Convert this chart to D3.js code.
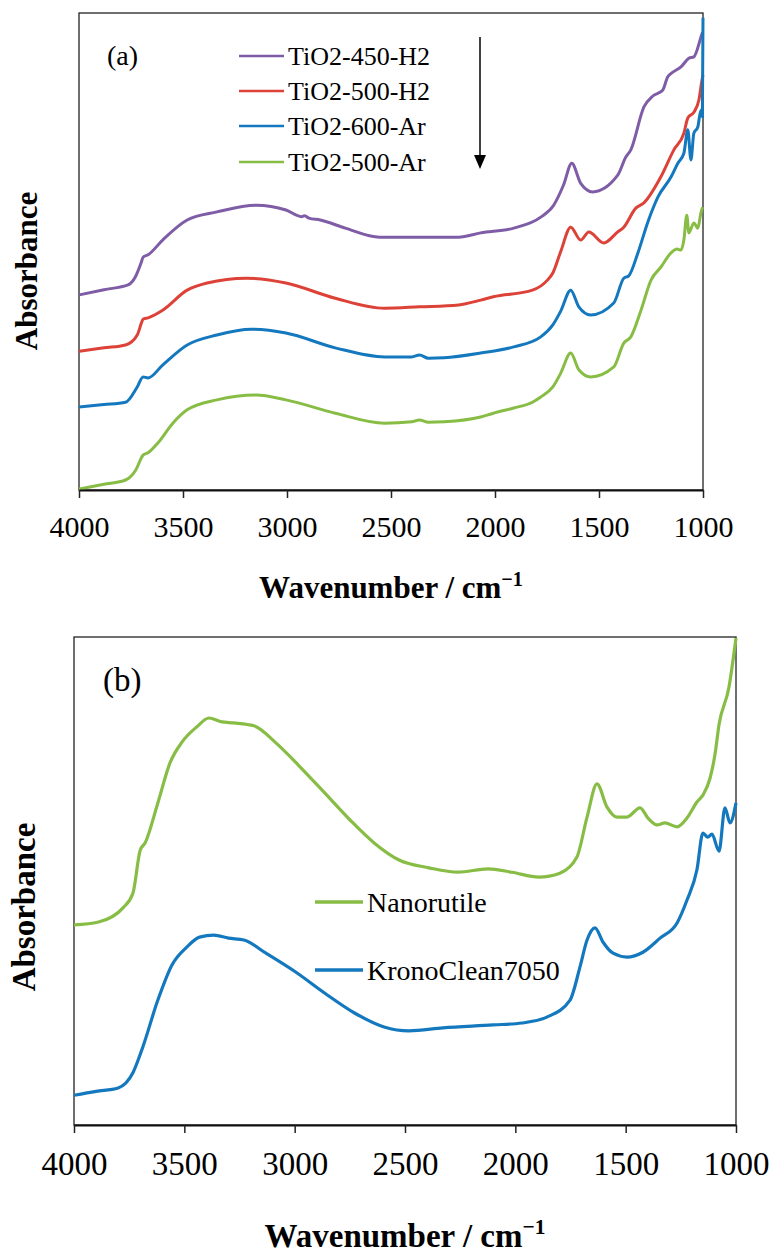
<!DOCTYPE html>
<html>
<head>
<meta charset="utf-8">
<script src="https://cdn.jsdelivr.net/npm/d3@7"></script>
<style>
  body { margin: 0; background: #fff; }
  text { font-family: "Liberation Serif", "Times New Roman", serif; fill: #000; }
</style>
</head>
<body>
<svg width="773" height="1253"></svg>
<script>
// wavenumber (cm-1), absorbance (a.u., offset curves)
var tio2_450_h2 = [[4000,40.9],[3880,42.0],[3764,43.0],[3730,44.6],[3700,47.8],[3692,48.8],[3668,49.3],[3598,52.4],[3480,56.6],[3337,58.3],[3148,59.7],[3005,58.7],[2930,57.3],[2915,57.5],[2895,57.0],[2840,56.6],[2720,54.9],[2555,53.0],[2175,53.0],[2069,53.9],[1910,54.9],[1780,57.2],[1718,59.7],[1670,64.0],[1631,68.5],[1588,64.3],[1530,62.5],[1410,66.0],[1371,69.8],[1347,71.3],[1284,80.3],[1241,82.6],[1194,83.8],[1170,86.6],[1145,87.6],[1106,88.7],[1068,90.5],[1044,90.8],[1010,94.9],[1002,96.0]];
var tio2_500_h2 = [[4000,29.1],[3880,29.8],[3776,30.4],[3720,32.5],[3700,35.0],[3692,35.8],[3668,36.1],[3598,37.7],[3480,41.9],[3384,43.4],[3195,44.4],[3005,43.4],[2768,40.2],[2531,38.1],[2363,38.4],[2175,38.8],[2069,39.8],[2008,40.5],[1820,41.9],[1748,44.0],[1722,45.5],[1684,50.0],[1636,55.1],[1588,52.4],[1549,54.1],[1477,51.8],[1410,54.1],[1381,55.1],[1323,59.1],[1284,60.2],[1203,65.6],[1140,71.3],[1092,74.8],[1073,78.0],[1044,79.2],[1020,81.7],[1005,85.9],[1000,87.0]];
var tio2_600_ar = [[4000,17.4],[3880,17.9],[3776,18.4],[3720,21.6],[3692,23.7],[3668,23.5],[3598,26.2],[3480,30.4],[3337,32.5],[3171,33.7],[3005,32.9],[2768,29.8],[2531,27.9],[2400,27.9],[2363,28.3],[2320,27.6],[2245,27.7],[2069,28.7],[1910,30.0],[1780,32.1],[1722,34.6],[1684,37.5],[1636,41.9],[1597,38.4],[1540,36.7],[1429,39.2],[1381,44.4],[1357,44.9],[1313,49.7],[1265,56.2],[1217,61.4],[1154,65.6],[1121,68.5],[1092,70.6],[1073,75.5],[1058,69.2],[1044,74.8],[1025,76.1],[1010,79.6],[1003,78.2],[1000,99.0]];
var tio2_500_ar = [[4000,0.2],[3880,1.2],[3776,2.1],[3727,4.2],[3692,7.3],[3668,7.8],[3620,9.9],[3549,14.0],[3480,16.8],[3337,18.9],[3148,19.9],[3005,18.9],[2768,16.1],[2531,14.0],[2400,14.3],[2363,14.7],[2320,14.2],[2245,14.3],[2069,15.3],[2008,16.1],[1910,17.2],[1820,18.4],[1780,19.5],[1722,21.6],[1684,24.5],[1636,28.7],[1597,25.2],[1540,23.7],[1429,25.8],[1381,30.8],[1347,32.1],[1298,37.7],[1250,44.0],[1203,46.7],[1154,49.7],[1125,50.5],[1106,50.3],[1092,52.4],[1078,57.6],[1068,53.9],[1044,56.0],[1025,54.9],[1010,58.1],[1002,59.3]];

var nanorutile = [[4000,41.0],[3889,41.6],[3778,44.5],[3733,47.5],[3700,56.3],[3678,57.8],[3620,66.0],[3565,74.2],[3510,78.5],[3443,81.6],[3388,83.4],[3330,82.6],[3275,82.4],[3184,81.8],[3085,78.3],[2976,73.4],[2863,68.0],[2749,62.5],[2640,57.8],[2527,54.3],[2391,52.7],[2260,51.8],[2124,52.5],[2015,51.8],[1893,50.8],[1798,51.6],[1721,54.9],[1675,63.1],[1630,69.9],[1585,65.2],[1539,63.1],[1494,63.1],[1435,65.0],[1399,62.9],[1358,61.5],[1322,61.9],[1267,61.1],[1222,62.9],[1177,66.2],[1150,67.6],[1118,71.0],[1095,76.0],[1077,82.0],[1032,89.7],[1000,99.8]];
var kronoclean7050 = [[4000,6.1],[3900,6.9],[3800,7.6],[3733,10.7],[3688,16.0],[3620,25.6],[3556,32.8],[3488,36.5],[3431,38.5],[3366,38.9],[3300,38.3],[3230,37.9],[3130,35.2],[2994,31.3],[2863,27.0],[2727,22.9],[2595,20.1],[2482,19.3],[2328,19.9],[2101,20.5],[1970,20.9],[1857,22.1],[1752,25.6],[1707,32.4],[1675,37.9],[1639,40.4],[1603,37.5],[1557,35.2],[1494,34.4],[1422,35.4],[1344,38.3],[1267,41.4],[1222,46.1],[1177,52.3],[1150,59.8],[1128,59.0],[1109,59.6],[1077,56.1],[1050,65.0],[1027,61.9],[1000,66.0]];

var namesA = ['TiO2-450-H2', 'TiO2-500-H2', 'TiO2-600-Ar', 'TiO2-500-Ar'];
var namesB = ['Nanorutile', 'KronoClean7050'];
var xTicks = [4000, 3500, 3000, 2500, 2000, 1500, 1000];

var svg = d3.select('svg');

function drawPanel(p) {
  var x = d3.scaleLinear().domain([4000, 1000]).range([p.left, p.right]);
  var y = d3.scaleLinear().domain([0, 100]).range([p.bottom, p.top]);
  var g = svg.append('g');

  g.append('rect')
    .attr('x', p.left).attr('y', p.top)
    .attr('width', p.right - p.left).attr('height', p.bottom - p.top)
    .attr('fill', 'none').attr('stroke', '#222').attr('stroke-width', 1.3);

  var line = d3.line()
    .x(function (d) { return x(d[0]); })
    .y(function (d) { return y(d[1]); })
    .curve(d3.curveMonotoneX);

  p.series.forEach(function (s) {
    g.append('path')
      .datum(s.data)
      .attr('d', line)
      .attr('fill', 'none')
      .attr('stroke', s.color)
      .attr('stroke-width', p.lw)
      .attr('stroke-linejoin', 'round');
  });

  var axis = g.append('g')
    .attr('transform', 'translate(0,' + p.bottom + ')')
    .call(d3.axisBottom(x).tickValues(xTicks).tickSize(8).tickSizeOuter(0).tickFormat(d3.format('d')));
  axis.attr('font-family', null);
  axis.select('.domain').attr('stroke', '#111').attr('stroke-width', 2);
  axis.selectAll('.tick line').attr('stroke', '#222').attr('stroke-width', 1.5);
  axis.selectAll('.tick text')
    .attr('y', p.tickY).attr('dy', 0)
    .style('font-family', '"Liberation Serif", "Times New Roman", serif')
    .style('font-size', p.tickFont + 'px')
    .attr('fill', '#000');

  var t = g.append('text')
    .attr('x', (p.left + p.right) / 2)
    .attr('y', p.titleY)
    .attr('text-anchor', 'middle')
    .style('font-size', p.titleFont + 'px')
    .style('font-weight', 'bold')
    .text('Wavenumber / cm');
  t.append('tspan').attr('dy', -p.titleFont * 0.4).style('font-size', (p.titleFont * 0.65) + 'px').text('\u22121');

  g.append('text')
    .attr('transform', 'translate(' + p.yTitleX + ',' + p.yTitleY + ') rotate(-90)')
    .attr('text-anchor', 'middle')
    .style('font-size', p.titleFont + 'px')
    .style('font-weight', 'bold')
    .text('Absorbance');

  g.append('text')
    .attr('x', p.labelX).attr('y', p.labelY)
    .style('font-size', p.labelFont + 'px')
    .text(p.label);

  var legend = g.selectAll('.legend')
    .data(p.series)
    .enter().append('g')
    .attr('transform', function (d, i) { return 'translate(' + p.legX + ',' + p.legY[i] + ')'; });
  legend.append('line')
    .attr('x1', 0).attr('x2', p.legLen)
    .attr('stroke', function (d) { return d.color; })
    .attr('stroke-width', p.legLw);
  legend.append('text')
    .attr('x', p.legLen + 4)
    .attr('dy', '0.34em')
    .style('font-size', p.legFont + 'px')
    .text(function (d) { return d.name; });
  return g;
}

var ga = drawPanel({
  left: 79, right: 703, top: 13, bottom: 490, lw: 3,
  tickY: 47, tickFont: 30, titleY: 598, titleFont: 31,
  yTitleX: 37, yTitleY: 271,
  label: '(a)', labelX: 107, labelY: 65, labelFont: 28,
  legX: 239, legY: [56, 91, 126, 162], legLen: 45, legLw: 2.5, legFont: 26,
  series: [
    { name: namesA[0], data: tio2_450_h2, color: '#7E5CA6' },
    { name: namesA[1], data: tio2_500_h2, color: '#DD4238' },
    { name: namesA[2], data: tio2_600_ar, color: '#1478BE' },
    { name: namesA[3], data: tio2_500_ar, color: '#88BD45' }
  ]
});

// arrow next to the legend
ga.append('line')
  .attr('x1', 480).attr('x2', 480).attr('y1', 37).attr('y2', 158)
  .attr('stroke', '#000').attr('stroke-width', 1.5);
ga.append('path')
  .attr('d', 'M474,155 L486,155 L480,169 Z')
  .attr('fill', '#000');

drawPanel({
  left: 74, right: 736, top: 637, bottom: 1125, lw: 3.2,
  tickY: 50, tickFont: 33, titleY: 1247, titleFont: 33,
  yTitleX: 35, yTitleY: 907,
  label: '(b)', labelX: 103, labelY: 691, labelFont: 33,
  legX: 315, legY: [902, 970], legLen: 48, legLw: 3.5, legFont: 28,
  series: [
    { name: namesB[0], data: nanorutile, color: '#88BD45' },
    { name: namesB[1], data: kronoclean7050, color: '#1478BE' }
  ]
});
</script>
</body>
</html>
